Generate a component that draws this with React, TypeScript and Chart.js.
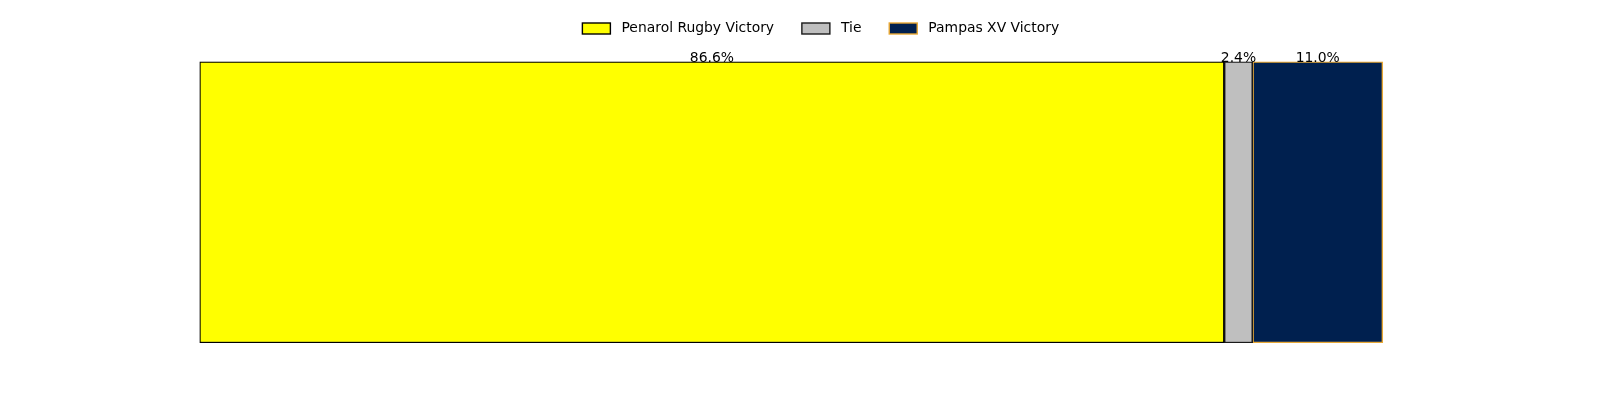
import React, { useEffect, useRef } from "react";
import { Chart, registerables } from "chart.js";

Chart.register(...registerables);

const categories = ["Matches"];
const seriesNames = ["Penarol Rugby Victory", "Tie", "Pampas XV Victory"];
const seriesValues = [86.6, 2.4, 11.0];
const fillColors = ["#FFFF00", "#BFBFBF", "#00204F"];
const edgeColors = ["#000000", "#1a1a1a", "#E8A835"];

const FONT = "13.9px 'DejaVu Sans'";

const labelPlugin = {
  id: "pctLabels",
  afterDatasetsDraw(chart: any) {
    const ctx = chart.ctx;
    ctx.save();
    ctx.font = FONT;
    ctx.fillStyle = "#000000";
    ctx.textAlign = "center";
    ctx.textBaseline = "alphabetic";
    chart.data.datasets.forEach((ds: any, i: number) => {
      const meta = chart.getDatasetMeta(i);
      meta.data.forEach((bar: any, j: number) => {
        const p = bar.getProps(["x", "y", "base", "height"], true);
        const cx = (p.x + p.base) / 2;
        const top = p.y - p.height / 2;
        ctx.fillText(ds.data[j].toFixed(1) + "%", cx, top);
      });
    });
    ctx.restore();
  },
};

const legendPlugin = {
  id: "mplLegend",
  afterDraw(chart: any) {
    const ctx = chart.ctx;
    const sets = chart.data.datasets;
    const boxW = 28;
    const boxH = 11;
    const textPad = 11.1;
    const colSpace = 27.8;
    ctx.save();
    ctx.font = FONT;
    const widths = sets.map((ds: any) => ctx.measureText(ds.label).width);
    let total = 0;
    widths.forEach((w: number, i: number) => {
      total += boxW + textPad + w + (i < widths.length - 1 ? colSpace : 0);
    });
    const xs = chart.scales.x;
    const axesLeft = chart.chartArea.left;
    const axesRight = xs.getPixelForValue(105);
    const cx = (axesLeft + axesRight) / 2;
    const cy = 28.5;
    let x = cx - total / 2;
    sets.forEach((ds: any, i: number) => {
      ctx.fillStyle = ds.backgroundColor;
      ctx.fillRect(x, cy - boxH / 2, boxW, boxH);
      ctx.strokeStyle = ds.borderColor;
      ctx.lineWidth = 1.4;
      ctx.strokeRect(x, cy - boxH / 2, boxW, boxH);
      ctx.fillStyle = "#000000";
      ctx.textAlign = "left";
      ctx.textBaseline = "middle";
      ctx.fillText(ds.label, x + boxW + textPad, cy);
      x += boxW + textPad + widths[i] + colSpace;
    });
    ctx.restore();
  },
};

export default function App() {
  const ref = useRef<HTMLCanvasElement>(null);
  useEffect(() => {
    document.body.style.margin = "0";
    if (!ref.current) return;
    const chart = new Chart(ref.current, {
      type: "bar",
      data: {
        labels: categories,
        datasets: seriesNames.map((name, i) => ({
          label: name,
          data: [seriesValues[i]],
          backgroundColor: fillColors[i],
          borderColor: edgeColors[i],
          borderWidth: 1.5,
          borderSkipped: false,
          categoryPercentage: 1,
          barPercentage: 1,
        })),
      },
      options: {
        indexAxis: "y",
        animation: false,
        responsive: false,
        maintainAspectRatio: false,
        layout: { padding: { left: 199.5, right: 158, top: 61.5, bottom: 57 } },
        scales: {
          x: {
            stacked: true,
            min: 0,
            max: 105,
            display: false,
          },
          y: {
            stacked: true,
            display: false,
          },
        },
        plugins: {
          tooltip: { enabled: false },
          legend: { display: false },
        },
      },
      plugins: [labelPlugin, legendPlugin],
    });
    return () => chart.destroy();
  }, []);
  return (
    <div style={{ width: 1600, height: 400 }}>
      <canvas ref={ref} width={1600} height={400} style={{ display: "block" }} />
    </div>
  );
}
